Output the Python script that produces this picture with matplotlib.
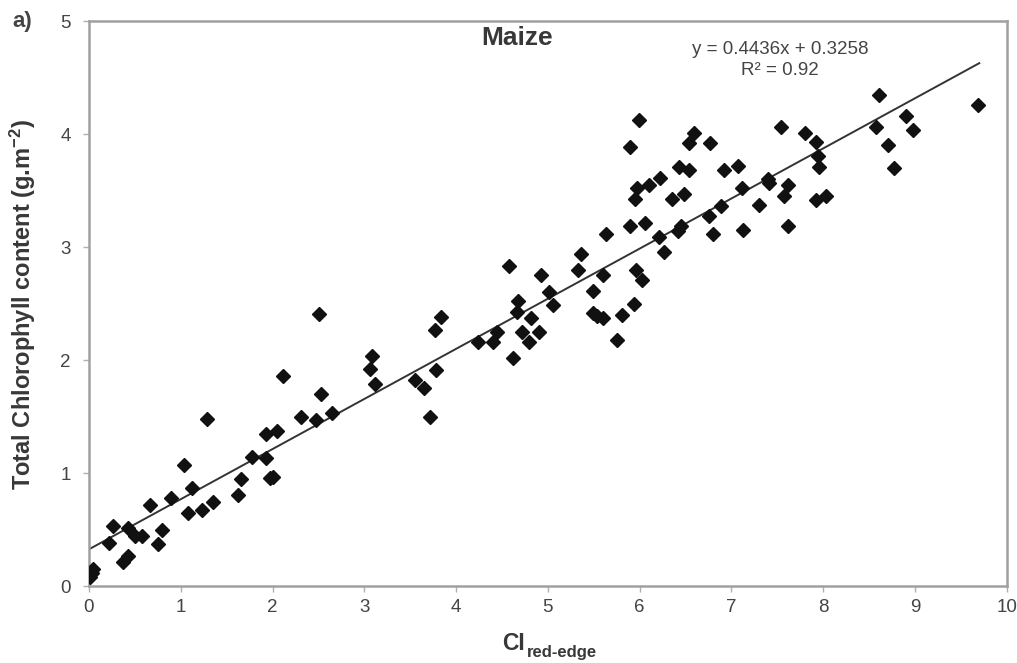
import matplotlib
matplotlib.use("Agg")
import matplotlib.pyplot as plt
import numpy as np

plt.rcParams['font.family'] = ['Liberation Sans', 'DejaVu Sans']
plt.rcParams['mathtext.fontset'] = 'custom'
plt.rcParams['mathtext.rm'] = 'Liberation Sans:bold'
plt.rcParams['mathtext.bf'] = 'Liberation Sans:bold'
plt.rcParams['mathtext.default'] = 'bf'

ci_red_edge = [0.01, 0.03, 0.04, 0.22, 0.26, 0.37, 0.43, 0.43, 0.50, 0.58,
               0.66, 0.75, 0.80, 0.89, 1.04, 1.08, 1.12, 1.23, 1.29, 1.35,
               1.62, 1.66, 1.78, 1.93, 1.93, 1.97, 2.01, 2.05, 2.11, 2.31,
               2.47, 2.53, 2.51, 2.65, 3.08, 3.06, 3.12, 3.55, 3.65, 3.78,
               3.72, 3.77, 3.84, 4.24, 4.40, 4.45, 4.62, 4.66, 4.67, 4.72,
               4.82, 4.90, 4.79, 5.06, 4.58, 4.92, 5.01, 5.33, 5.36, 5.60,
               5.49, 5.49, 5.54, 5.60, 5.63, 5.75, 5.81, 5.89, 5.89, 5.94,
               5.96, 6.02, 5.97, 5.95, 5.99, 6.06, 6.10, 6.22, 6.21, 6.26,
               6.35, 6.42, 6.45, 6.48, 6.43, 6.54, 6.54, 6.59, 6.77, 6.76,
               6.80, 6.89, 6.92, 7.07, 7.11, 7.13, 7.30, 7.40, 7.41, 7.54,
               7.57, 7.62, 7.62, 7.80, 7.92, 7.94, 7.95, 7.92, 8.03, 8.61,
               8.58, 8.90, 8.98, 8.70, 8.77, 9.69]
chlorophyll = [0.08, 0.12, 0.15, 0.38, 0.53, 0.21, 0.27, 0.51, 0.44, 0.44,
               0.72, 0.37, 0.50, 0.78, 1.07, 0.65, 0.87, 0.67, 1.48, 0.74,
               0.81, 0.95, 1.14, 1.35, 1.13, 0.96, 0.97, 1.37, 1.86, 1.50,
               1.47, 1.70, 2.41, 1.53, 2.04, 1.92, 1.79, 1.82, 1.75, 1.91,
               1.50, 2.27, 2.38, 2.16, 2.16, 2.25, 2.02, 2.43, 2.52, 2.25,
               2.37, 2.25, 2.16, 2.49, 2.83, 2.75, 2.60, 2.80, 2.94, 2.75,
               2.61, 2.42, 2.39, 2.37, 3.12, 2.18, 2.40, 3.89, 3.19, 2.50,
               2.80, 2.71, 3.52, 3.43, 4.13, 3.21, 3.55, 3.61, 3.09, 2.96,
               3.43, 3.14, 3.19, 3.47, 3.71, 3.68, 3.92, 4.01, 3.92, 3.28,
               3.12, 3.36, 3.68, 3.72, 3.52, 3.15, 3.37, 3.60, 3.57, 4.06,
               3.45, 3.55, 3.19, 4.01, 3.93, 3.81, 3.71, 3.42, 3.45, 4.35,
               4.06, 4.16, 4.04, 3.90, 3.70, 4.26]

slope = 0.4436
intercept = 0.3258
fit_range = [0.0, 9.7]
x_ticks = list(range(0, 11))
y_ticks = list(range(0, 6))

fig = plt.figure(figsize=(10.17, 6.63), dpi=100)
ax = fig.add_axes([0.0875, 0.116, 0.9025, 0.852])

fx = np.array(fit_range)
ax.plot(fx, slope * fx + intercept, color='#333333', lw=1.4, zorder=2)
ax.plot(ci_red_edge, chlorophyll, linestyle='none', marker='D',
        markersize=7.5, color='#111111', zorder=3)

ax.set_xlim(0, 10)
ax.set_ylim(0, 5)
ax.set_xticks(x_ticks)
ax.set_yticks(y_ticks)
for sp in ax.spines.values():
    sp.set_color('#a0a0a0')
    sp.set_linewidth(1.8)
ax.tick_params(axis='both', direction='out', length=4, width=1, color='#b0b0b0',
               labelcolor='#444444', labelsize=13.5)
ax.tick_params(axis='x', pad=5)
ax.tick_params(axis='y', pad=9)

ax.set_ylabel('Total Chlorophyll content (g.m$^{-2}$)', fontsize=17,
              fontweight='bold', color='#383838')
ax.yaxis.set_label_coords(38 / 1017, (663 - 304) / 663, transform=fig.transFigure)

fig.text(525 / 1017, 1 - 643 / 663, 'CI', fontsize=16.5, fontweight='bold',
         color='#383838', ha='right', va='center')
fig.text(527 / 1017, 1 - 652 / 663, 'red-edge', fontsize=12, fontweight='bold',
         color='#383838', ha='left', va='center')

fig.text(517 / 1017, 1 - 38 / 663, 'Maize', fontsize=19, fontweight='bold',
         color='#383838', ha='center', va='center')
ax.text(0.753, 0.950, 'y = 0.4436x + 0.3258', transform=ax.transAxes,
        fontsize=13.5, color='#444444', ha='center', va='center')
ax.text(0.753, 0.913, 'R² = 0.92', transform=ax.transAxes,
        fontsize=13.5, color='#444444', ha='center', va='center')
fig.text(12 / 1017, 1 - 22 / 663, 'a)', fontsize=16, fontweight='bold',
         color='#444444', ha='left', va='center')

fig.savefig('out.png', dpi=100, facecolor='white')
